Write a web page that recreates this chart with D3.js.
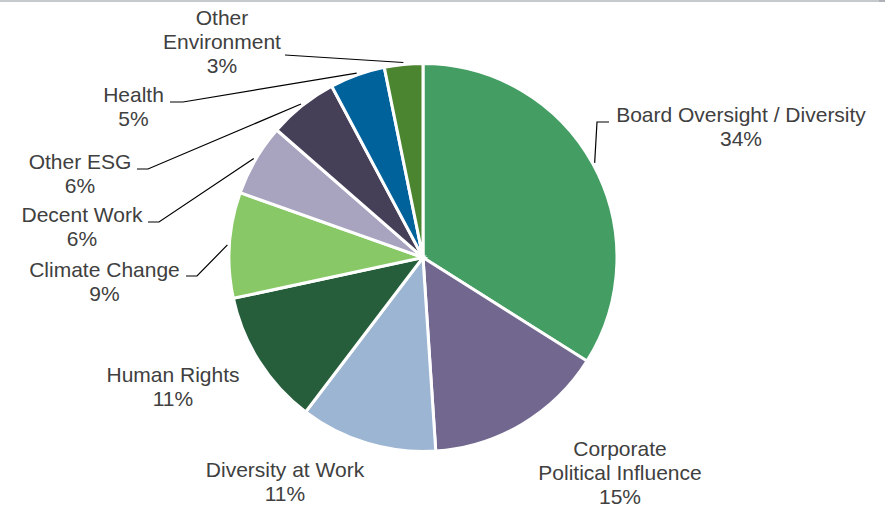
<!DOCTYPE html>
<html>
<head>
<meta charset="utf-8">
<script src="https://cdn.jsdelivr.net/npm/d3@7"></script>
<style>
  html, body { margin: 0; padding: 0; background: #fff; }
  svg { display: block; }
  text { font-family: "Liberation Sans", Arial, sans-serif; }
</style>
</head>
<body>
<svg id="chart" width="888" height="507"></svg>
<script>
// ---- data ----
const categories = [
  "Board Oversight / Diversity",
  "Corporate Political Influence",
  "Diversity at Work",
  "Human Rights",
  "Climate Change",
  "Decent Work",
  "Other ESG",
  "Health",
  "Other Environment"
];
const values = [34.0, 15.0, 11.4, 11.3, 8.8, 6.0, 5.8, 4.6, 3.2];
const colors = ["#449e63", "#72688f", "#9bb5d3", "#265e3c", "#88c866",
                "#a8a4bf", "#453f58", "#00629b", "#4b8530"];

// ---- label layout (text lines, anchor, first baseline, elbow path) ----
const labelLayout = {
  "Board Oversight / Diversity": { lines: ["Board Oversight / Diversity"], x: 741, y: 122, elbow: [[597, 122], [609, 122]] },
  "Corporate Political Influence": { lines: ["Corporate", "Political Influence"], x: 620, y: 456, elbow: null },
  "Diversity at Work": { lines: ["Diversity at Work"], x: 285, y: 477, elbow: null },
  "Human Rights": { lines: ["Human Rights"], x: 173, y: 382, elbow: null },
  "Climate Change": { lines: ["Climate Change"], x: 104.5, y: 277, elbow: [[197, 276], [186, 276]] },
  "Decent Work": { lines: ["Decent Work"], x: 82, y: 222, elbow: [[159, 222], [148, 222]] },
  "Other ESG": { lines: ["Other ESG"], x: 80, y: 169, elbow: [[148, 169], [137, 169]] },
  "Health": { lines: ["Health"], x: 133.5, y: 102, elbow: [[183, 102], [170, 102]] },
  "Other Environment": { lines: ["Other", "Environment"], x: 222, y: 25, elbow: [[285, 55]] }
};

const W = 888, H = 507;
const cx = 423, cy = 257.5, R = 194;
const lineH = 24;

const svg = d3.select("#chart");

// top border line
svg.append("line")
  .attr("x1", 0).attr("x2", 880).attr("y1", 1).attr("y2", 1)
  .attr("stroke", "#c6c9cc").attr("stroke-width", 2);
svg.append("rect").attr("x", 879).attr("y", 0).attr("width", 6).attr("height", 2)
  .attr("fill", "#aeb2b6");

const data = categories.map((c, i) => ({ category: c, value: values[i], color: colors[i] }));
const total = d3.sum(values);

const pie = d3.pie().sort(null).value(d => d.value);
const arcs = pie(data);
const arc = d3.arc().innerRadius(0).outerRadius(R);

const g = svg.append("g").attr("transform", `translate(${cx},${cy})`);
g.selectAll("path.slice")
  .data(arcs)
  .join("path")
  .attr("class", "slice")
  .attr("d", arc)
  .attr("fill", d => d.data.color)
  .attr("stroke", "#fff")
  .attr("stroke-width", 3)
  .attr("stroke-linejoin", "miter");

// leader lines
const pct = d3.format(".0%");
arcs.forEach(a => {
  const L = labelLayout[a.data.category];
  if (!L.elbow) return;
  const mid = (a.startAngle + a.endAngle) / 2;
  const start = [cx + (R + 2) * Math.sin(mid), cy - (R + 2) * Math.cos(mid)];
  const pts = [start].concat(L.elbow);
  svg.append("path")
    .attr("d", d3.line()(pts))
    .attr("fill", "none")
    .attr("stroke", "#000")
    .attr("stroke-width", 1.2);
});

// labels
arcs.forEach(a => {
  const L = labelLayout[a.data.category];
  const lines = L.lines.concat([pct(a.data.value / total)]);
  const t = svg.append("text")
    .attr("text-anchor", "middle")
    .attr("font-size", 21)
    .attr("fill", "#404040");
  lines.forEach((s, i) => {
    t.append("tspan").attr("x", L.x).attr("y", L.y + i * lineH).text(s);
  });
});
</script>
</body>
</html>
